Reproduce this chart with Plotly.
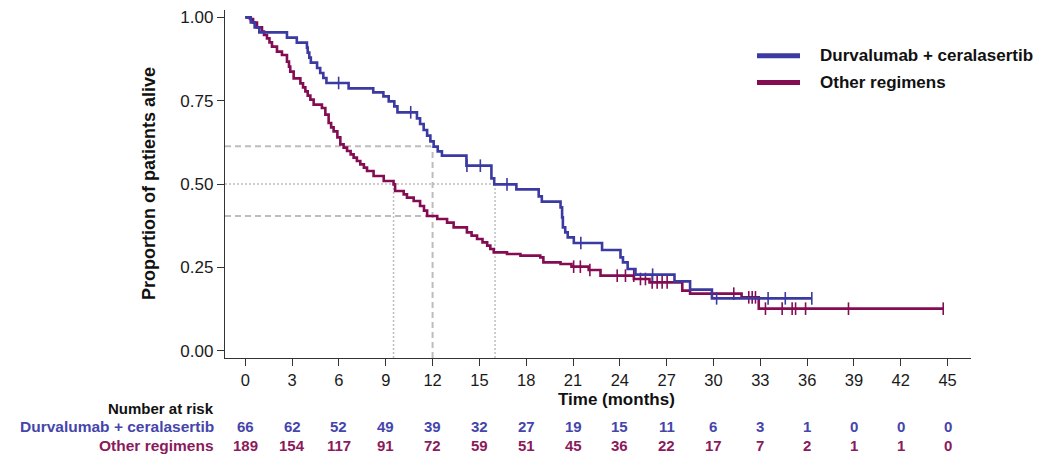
import numpy as np
import plotly.graph_objects as go

# ---------------- data ----------------
durva_name = "Durvalumab + ceralasertib"
other_name = "Other regimens"

# Durvalumab + ceralasertib: event times (months) and survival after each step
durva_time = [0.35, 0.6, 0.9, 2.67, 3.3, 3.95, 4.0, 4.1, 4.2, 4.6, 4.8, 5.0, 5.2,
              6.62, 8.2, 8.85, 9.19, 9.55, 9.75, 11.0, 11.2, 11.43, 11.65, 11.86,
              12.07, 12.33, 12.6, 14.17, 15.77, 15.95, 17.37, 18.8, 19.0, 20.2,
              20.3, 20.35, 20.5, 20.66, 21.05, 22.86, 24.04, 24.2, 24.5, 25.0,
              27.5, 28.5, 29.9]
durva_surv = [0.985, 0.970, 0.955, 0.939, 0.924, 0.909, 0.894, 0.879, 0.864, 0.848,
              0.833, 0.818, 0.803, 0.787, 0.775, 0.763, 0.748, 0.733, 0.715, 0.697,
              0.680, 0.662, 0.645, 0.628, 0.612, 0.598, 0.585, 0.555, 0.517, 0.499,
              0.484, 0.463, 0.447, 0.430, 0.400, 0.370, 0.355, 0.340, 0.323, 0.302,
              0.280, 0.265, 0.245, 0.228, 0.208, 0.183, 0.157]
durva_censor = [5.98, 10.6, 14.2, 15.06, 16.77, 21.5, 26.1, 30.2, 33.5, 34.6, 36.3]

# Other regimens
other_time = [0.3, 0.5, 0.75, 1.07, 1.2, 1.39, 1.55, 1.71, 2.03, 2.35, 2.67, 2.8, 2.88,
              3.1, 3.53, 3.7, 3.85, 4.0, 4.17, 4.38, 4.91, 5.13, 5.34, 5.5, 5.66, 5.9,
              6.09, 6.3, 6.52, 6.75, 6.94, 7.15, 7.37, 7.6, 7.8, 8.22, 8.87, 9.5, 9.6,
              10.15, 10.36, 10.79, 11.2, 11.45, 11.65, 12.3, 12.93, 13.35, 14.2, 14.5,
              14.85, 15.2, 15.5, 15.7, 15.92, 16.77, 17.63, 18.9, 19.1, 20.2, 20.9,
              22.0, 22.76, 24.9, 25.9, 28.0, 28.5, 31.8, 32.9]
other_surv = [0.995, 0.984, 0.970, 0.957, 0.947, 0.937, 0.925, 0.912, 0.897, 0.887,
              0.867, 0.852, 0.837, 0.817, 0.802, 0.790, 0.778, 0.765, 0.753, 0.738,
              0.728, 0.708, 0.683, 0.670, 0.658, 0.640, 0.619, 0.609, 0.599, 0.589,
              0.579, 0.569, 0.559, 0.549, 0.539, 0.524, 0.509, 0.499, 0.479, 0.469,
              0.459, 0.449, 0.434, 0.420, 0.404, 0.395, 0.384, 0.370, 0.355, 0.345,
              0.335, 0.325, 0.315, 0.305, 0.295, 0.290, 0.285, 0.280, 0.265, 0.260,
              0.252, 0.242, 0.225, 0.215, 0.205, 0.180, 0.171, 0.160, 0.126]
other_censor = [21.04, 21.47, 22.08, 23.83, 24.36, 24.89, 25.32, 25.64, 26.07, 26.39,
                26.71, 27.03, 31.30, 32.26, 32.48, 32.69, 33.33, 34.4, 35.04, 35.26,
                35.9, 38.65, 44.72]

# Median reference lines
ref_surv_levels = [0.613, 0.5, 0.404]       # horizontal lines (y)
ref_surv_ends = [12.0, 16.0, 12.0]          # where each horizontal line stops (x)
ref_surv_dash = ["dash", "dot", "dash"]
ref_time_points = [9.5, 12.0, 16.0]         # vertical lines (x)
ref_time_tops = [0.5, 0.613, 0.5]
ref_time_dash = ["dot", "dash", "dot"]

# Number at risk
risk_times = [0, 3, 6, 9, 12, 15, 18, 21, 24, 27, 30, 33, 36, 39, 42, 45]
risk_durva = [66, 62, 52, 49, 39, 32, 27, 19, 15, 11, 6, 3, 1, 0, 0, 0]
risk_other = [189, 154, 117, 91, 72, 59, 51, 45, 36, 22, 17, 7, 2, 1, 1, 0]

x_ticks = list(range(0, 46, 3))
y_ticks = [0.0, 0.25, 0.5, 0.75, 1.0]
y_ticktext = ["0.00", "0.25", "0.50", "0.75", "1.00"]

# ---------------- styling ----------------
BLUE = "#3a3aa2"
MAROON = "#840c52"
BLUE_TXT = "#4545ab"
MAROON_TXT = "#8a1a5c"
GREY = "#bdbdbd"
AX = "#333333"
FONT = "Liberation Sans, Arial, sans-serif"

X_RANGE = [-1.3, 46.5]
Y_RANGE = [-0.022, 1.022]

# page offset caused by the default body margin of the html page
OFF = 8
W, H = 1064 - OFF, 459 - OFF
# plot area in page pixels
PAGE_L, PAGE_R, PAGE_T, PAGE_B = 225, 971, 8, 358
PLOT_L, PLOT_R, PLOT_T, PLOT_B = PAGE_L - OFF, PAGE_R - OFF, PAGE_T - OFF, PAGE_B - OFF


def step_xy(times, survs, end_time):
    xs = [0.0] + list(times) + [end_time]
    ys = [1.0] + list(survs) + [survs[-1]]
    return xs, ys


def surv_at(times, survs, t):
    idx = np.searchsorted(np.asarray(times), t, side="right")
    return 1.0 if idx == 0 else survs[idx - 1]


def px_to_paper_x(page_px):
    return (page_px - OFF - PLOT_L) / (PLOT_R - PLOT_L)


def px_to_paper_y(page_py):
    return (PLOT_B - (page_py - OFF)) / (PLOT_B - PLOT_T)


fig = go.Figure()

# reference lines (drawn first so curves sit on top)
for lvl, end, dash in zip(ref_surv_levels, ref_surv_ends, ref_surv_dash):
    fig.add_trace(go.Scatter(x=[X_RANGE[0], end], y=[lvl, lvl], mode="lines",
                             line=dict(color=GREY, width=2 if dash == "dash" else 1.5,
                                       dash="6px,4px" if dash == "dash" else "2px,2px"),
                             hoverinfo="skip", showlegend=False))
for tp, top, dash in zip(ref_time_points, ref_time_tops, ref_time_dash):
    fig.add_trace(go.Scatter(x=[tp, tp], y=[Y_RANGE[0], top], mode="lines",
                             line=dict(color=GREY, width=2 if dash == "dash" else 1.5,
                                       dash="6px,4px" if dash == "dash" else "2px,2px"),
                             hoverinfo="skip", showlegend=False))

for name, times, survs, cens, color in [
    (other_name, other_time, other_surv, other_censor, MAROON),
    (durva_name, durva_time, durva_surv, durva_censor, BLUE),
]:
    xs, ys = step_xy(times, survs, max(cens[-1], times[-1]))
    fig.add_trace(go.Scatter(x=xs, y=ys, mode="lines", line=dict(color=color, width=2.6,
                             shape="hv"), name=name, showlegend=False))
    cy = [surv_at(times, survs, c) for c in cens]
    fig.add_trace(go.Scatter(x=cens, y=cy, mode="markers",
                             marker=dict(symbol="line-ns", size=9,
                                         line=dict(color=color, width=1.6)),
                             showlegend=False, hoverinfo="skip"))

fig.update_xaxes(range=X_RANGE, tickvals=x_ticks, ticks="outside", ticklen=7,
                 tickwidth=1.4, tickcolor=AX, showline=True, linecolor=AX, linewidth=1.4,
                 showgrid=False, zeroline=False, ticklabeloverflow="allow",
                 tickfont=dict(family=FONT, size=16.5, color="#1a1a1a"))
fig.update_yaxes(range=Y_RANGE, tickvals=y_ticks, ticktext=y_ticktext, ticks="outside",
                 ticklen=7, tickwidth=1.4, tickcolor=AX, showline=True, linecolor=AX,
                 linewidth=1.4, showgrid=False, zeroline=False, ticklabeloverflow="allow",
                 tickfont=dict(family=FONT, size=17, color="#1a1a1a"))

annotations = []
# axis titles
annotations.append(dict(text="<b>Proportion of patients alive</b>", xref="paper", yref="paper",
                        x=px_to_paper_x(149), y=px_to_paper_y(183), textangle=-90,
                        showarrow=False, xanchor="center", yanchor="middle",
                        font=dict(family=FONT, size=18, color="#111")))
annotations.append(dict(text="<b>Time (months)</b>", xref="paper", yref="paper",
                        x=px_to_paper_x(616), y=px_to_paper_y(400), showarrow=False,
                        xanchor="center", yanchor="middle",
                        font=dict(family=FONT, size=17, color="#111")))
# risk table
annotations.append(dict(text="<b>Number at risk</b>", xref="paper", yref="paper",
                        x=px_to_paper_x(216), y=px_to_paper_y(409), showarrow=False,
                        xanchor="right", yanchor="middle",
                        font=dict(family=FONT, size=15, color="#111")))
for label, counts, col, ypx in [(durva_name, risk_durva, BLUE_TXT, 427),
                                (other_name, risk_other, MAROON_TXT, 446)]:
    annotations.append(dict(text=f"<b>{label}</b>", xref="paper", yref="paper",
                            x=px_to_paper_x(216), y=px_to_paper_y(ypx), showarrow=False,
                            xanchor="right", yanchor="middle",
                            font=dict(family=FONT, size=15.5, color=col)))
    for t, n in zip(risk_times, counts):
        annotations.append(dict(text=f"<b>{n}</b>", xref="x", yref="paper", x=t,
                                y=px_to_paper_y(ypx), showarrow=False,
                                xanchor="center", yanchor="middle",
                                font=dict(family=FONT, size=15, color=col)))
# legend
shapes = []
for label, col, ypx in [(durva_name, BLUE, 54), (other_name, MAROON, 81)]:
    shapes.append(dict(type="line", xref="paper", yref="paper",
                       x0=px_to_paper_x(757), x1=px_to_paper_x(800),
                       y0=px_to_paper_y(ypx), y1=px_to_paper_y(ypx),
                       line=dict(color=col, width=5)))
    annotations.append(dict(text=f"<b>{label}</b>", xref="paper", yref="paper",
                            x=px_to_paper_x(818), y=px_to_paper_y(ypx), showarrow=False,
                            xanchor="left", yanchor="middle",
                            font=dict(family=FONT, size=17, color="#111")))

fig.update_layout(width=W, height=H, margin=dict(l=PLOT_L, r=W - PLOT_R, t=PLOT_T,
                  b=H - PLOT_B), paper_bgcolor="white", plot_bgcolor="white",
                  showlegend=False, annotations=annotations, shapes=shapes,
                  font=dict(family=FONT))

fig.write_html("out.html")
